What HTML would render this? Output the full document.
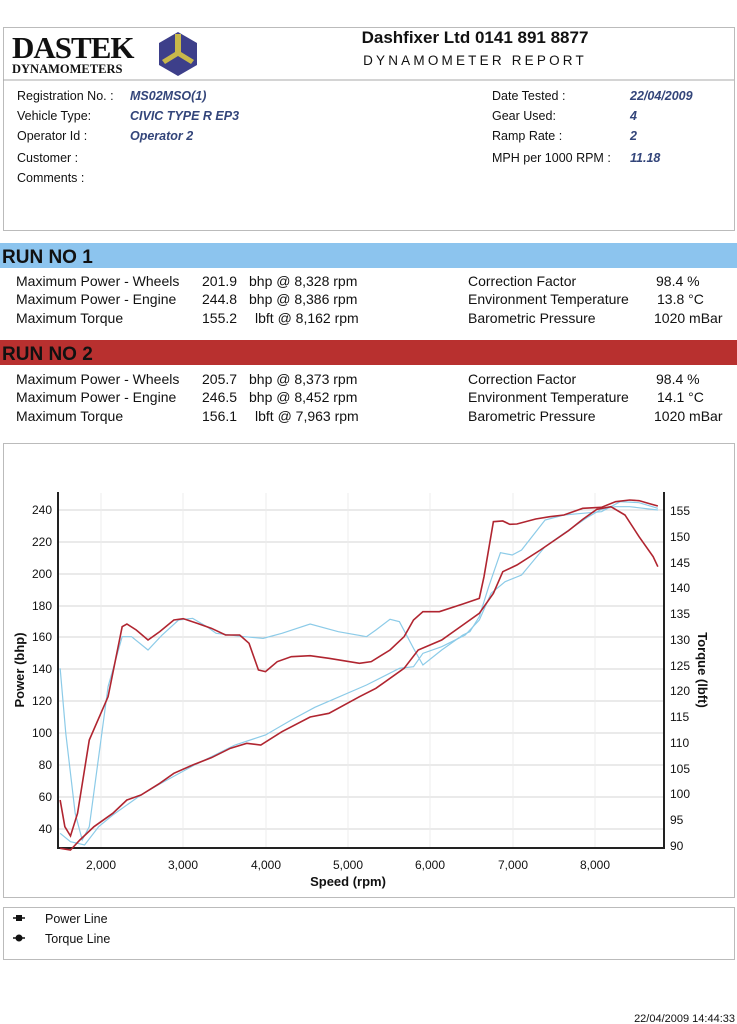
<!DOCTYPE html>
<html><head><meta charset="utf-8"><style>
html,body{margin:0;padding:0;background:#fff;}
body{width:737px;height:1024px;position:relative;overflow:hidden;font-family:"Liberation Sans",Arial,sans-serif;}
svg{position:absolute;left:0;top:0;}
</style></head><body>
<svg width="737" height="1024" viewBox="0 0 737 1024" font-family="Liberation Sans, Arial, sans-serif">
<rect x="3.5" y="27.5" width="731" height="203" fill="none" stroke="#bbb"/>
<line x1="3" y1="80" x2="734" y2="80" stroke="#aaa"/>
<text x="12" y="58" font-family="Liberation Serif, serif" font-weight="bold" font-size="31" fill="#111" letter-spacing="-1">DASTEK</text>
<text x="12" y="73" font-family="Liberation Serif, serif" font-weight="bold" font-size="12.5" fill="#111">DYNAMOMETERS</text>
<polygon points="178,32 197,43 197,65 178,76 159,65 159,43" fill="#3d3f8a"/>
<polygon points="175,34 181,34 181,52 194,60 191,64 178,56 165,64 162,60 175,52" fill="#c8b84a"/>
<text x="475" y="43" text-anchor="middle" font-size="17" font-weight="bold" fill="#111">Dashfixer Ltd 0141 891 8877</text>
<text x="475" y="65" text-anchor="middle" font-size="13.5" fill="#111" letter-spacing="3.2">DYNAMOMETER REPORT</text>
<g font-size="12.5" fill="#111">
<text x="17" y="100">Registration No. :</text>
<text x="17" y="120">Vehicle Type:</text>
<text x="17" y="140">Operator Id :</text>
<text x="17" y="162">Customer :</text>
<text x="17" y="182">Comments :</text>
<text x="492" y="100">Date Tested :</text>
<text x="492" y="120">Gear Used:</text>
<text x="492" y="140">Ramp Rate :</text>
<text x="492" y="162">MPH per 1000 RPM :</text>
</g>
<g font-size="12.5" fill="#33457a" font-style="italic" font-weight="bold">
<text x="130" y="100">MS02MSO(1)</text>
<text x="130" y="120">CIVIC TYPE R EP3</text>
<text x="130" y="140">Operator  2</text>
<text x="630" y="100">22/04/2009</text>
<text x="630" y="120">4</text>
<text x="630" y="140">2</text>
<text x="630" y="162">11.18</text>
</g>
<rect x="0" y="243" width="737" height="25" fill="#8cc4ee"/>
<text x="2" y="263" font-size="19" font-weight="bold" fill="#111">RUN NO 1</text>
<rect x="0" y="340" width="737" height="25" fill="#b8302f"/>
<text x="2" y="360" font-size="19" font-weight="bold" fill="#111">RUN NO 2</text>
<g font-size="14" fill="#111">
<text x="16" y="286">Maximum Power - Wheels</text>
<text x="16" y="304">Maximum Power - Engine</text>
<text x="16" y="323">Maximum Torque</text>
<text x="202" y="286">201.9</text><text x="249" y="286">bhp @ 8,328 rpm</text>
<text x="202" y="304">244.8</text><text x="249" y="304">bhp @ 8,386 rpm</text>
<text x="202" y="323">155.2</text><text x="255" y="323">lbft @ 8,162 rpm</text>
<text x="468" y="286">Correction Factor</text>
<text x="468" y="304">Environment Temperature</text>
<text x="468" y="323">Barometric Pressure</text>
<text x="656" y="286">98.4 %</text>
<text x="657" y="304">13.8 °C</text>
<text x="654" y="323">1020 mBar</text>
<text x="16" y="384">Maximum Power - Wheels</text>
<text x="16" y="402">Maximum Power - Engine</text>
<text x="16" y="421">Maximum Torque</text>
<text x="202" y="384">205.7</text><text x="249" y="384">bhp @ 8,373 rpm</text>
<text x="202" y="402">246.5</text><text x="249" y="402">bhp @ 8,452 rpm</text>
<text x="202" y="421">156.1</text><text x="255" y="421">lbft @ 7,963 rpm</text>
<text x="468" y="384">Correction Factor</text>
<text x="468" y="402">Environment Temperature</text>
<text x="468" y="421">Barometric Pressure</text>
<text x="656" y="384">98.4 %</text>
<text x="657" y="402">14.1 °C</text>
<text x="654" y="421">1020 mBar</text>
</g>
<rect x="3.5" y="443.5" width="731" height="454" fill="none" stroke="#bbb"/>
<g stroke="#d4d4d4" stroke-width="1">
<line x1="58" x2="664" y1="510" y2="510"/><line x1="58" x2="664" y1="542" y2="542"/>
<line x1="58" x2="664" y1="574" y2="574"/><line x1="58" x2="664" y1="606" y2="606"/>
<line x1="58" x2="664" y1="637" y2="637"/><line x1="58" x2="664" y1="669" y2="669"/>
<line x1="58" x2="664" y1="701" y2="701"/><line x1="58" x2="664" y1="733" y2="733"/>
<line x1="58" x2="664" y1="765" y2="765"/><line x1="58" x2="664" y1="797" y2="797"/>
<line x1="58" x2="664" y1="829" y2="829"/>
</g>
<g stroke="#ececec"><line x1="101" x2="101" y1="493" y2="848"/><line x1="183" x2="183" y1="493" y2="848"/><line x1="266" x2="266" y1="493" y2="848"/><line x1="348" x2="348" y1="493" y2="848"/><line x1="430" x2="430" y1="493" y2="848"/><line x1="513" x2="513" y1="493" y2="848"/><line x1="595" x2="595" y1="493" y2="848"/></g>
<g stroke="#222" stroke-width="2"><line x1="58" y1="492" x2="58" y2="849"/><line x1="664" y1="492" x2="664" y2="849"/><line x1="57" y1="848" x2="665" y2="848"/></g>
<g font-size="12" fill="#111" text-anchor="end">
<text x="52" y="514">240</text><text x="52" y="546">220</text><text x="52" y="578">200</text><text x="52" y="610">180</text>
<text x="52" y="641">160</text><text x="52" y="673">140</text><text x="52" y="705">120</text><text x="52" y="737">100</text>
<text x="52" y="769">80</text><text x="52" y="801">60</text><text x="52" y="833">40</text>
</g>
<g font-size="12" fill="#111">
<text x="670" y="515">155</text><text x="670" y="541">150</text><text x="670" y="567">145</text><text x="670" y="592">140</text>
<text x="670" y="618">135</text><text x="670" y="644">130</text><text x="670" y="670">125</text><text x="670" y="695">120</text>
<text x="670" y="721">115</text><text x="670" y="747">110</text><text x="670" y="773">105</text><text x="670" y="798">100</text>
<text x="670" y="824">95</text><text x="670" y="850">90</text>
</g>
<g font-size="12" fill="#111" text-anchor="middle">
<text x="101" y="869">2,000</text><text x="183" y="869">3,000</text><text x="266" y="869">4,000</text><text x="348" y="869">5,000</text>
<text x="430" y="869">6,000</text><text x="513" y="869">7,000</text><text x="595" y="869">8,000</text>
</g>
<text x="348" y="886" text-anchor="middle" font-size="13" font-weight="bold" fill="#111">Speed (rpm)</text>
<text transform="translate(24,670) rotate(-90)" text-anchor="middle" font-size="13" font-weight="bold" fill="#111">Power (bhp)</text>
<text transform="translate(698,670) rotate(90)" text-anchor="middle" font-size="13" font-weight="bold" fill="#111">Torque (lbft)</text>
<g transform="translate(0,480) scale(0.4699,0.33333)" fill="none">
<polyline vector-effect="non-scaling-stroke" stroke="#8ccbe8" stroke-width="1.2" points="128,565 140,760 160,1000 175,1080 190,1040 210,830 230,620 260,470 280,470 315,510 345,465 380,420 410,415 440,440 460,460 520,470 560,475 600,460 660,432 720,455 780,470 800,450 830,418 850,425 880,505 900,555 940,510 985,465 1000,455 1020,410 1040,320 1065,218 1090,225 1110,210 1160,120 1200,105 1240,100 1280,95 1320,65 1360,68 1400,85"/>
<polyline vector-effect="non-scaling-stroke" stroke="#8ccbe8" stroke-width="1.2" points="128,1060 150,1085 180,1095 210,1040 240,1005 300,945 340,912 410,858 500,795 565,765 620,720 670,682 780,615 850,565 880,560 900,520 940,500 990,465 1020,420 1045,340 1075,305 1110,285 1160,200 1200,160 1250,112 1280,88 1310,80 1340,80 1400,90"/>
<polyline vector-effect="non-scaling-stroke" stroke="#b02530" stroke-width="1.6" points="128,960 138,1040 150,1068 165,1000 190,780 230,650 260,440 270,432 290,450 315,480 340,455 370,420 390,416 420,430 450,445 480,465 510,465 530,490 550,570 565,575 590,545 620,530 660,527 700,535 765,550 790,545 830,510 860,470 880,420 900,395 935,395 985,372 1020,355 1030,290 1050,125 1070,123 1085,133 1100,132 1140,117 1170,110 1200,105 1240,85 1280,82 1310,65 1340,60 1360,62 1380,70 1400,78"/>
<polyline vector-effect="non-scaling-stroke" stroke="#b02530" stroke-width="1.6" points="128,1105 150,1110 170,1080 200,1040 240,1000 270,960 300,945 340,910 370,880 410,855 450,833 490,805 525,790 555,795 600,755 660,711 700,700 765,650 800,625 860,565 890,510 940,480 985,435 1020,400 1050,340 1070,275 1100,255 1150,210 1210,152 1240,118 1270,88 1300,80 1330,105 1360,170 1390,230 1400,260"/>
</g>
<rect x="3.5" y="907.5" width="731" height="52" fill="none" stroke="#bbb"/>
<line x1="13" y1="918" x2="25" y2="918" stroke="#111" stroke-width="1.5"/><rect x="16" y="915" width="6" height="6" fill="#111"/>
<line x1="13" y1="938" x2="25" y2="938" stroke="#111" stroke-width="1.5"/><circle cx="19" cy="938" r="3.5" fill="#111"/>
<text x="45" y="923" font-size="12.5" fill="#111">Power Line</text>
<text x="45" y="943" font-size="12.5" fill="#111">Torque Line</text>
<text x="735" y="1022" text-anchor="end" font-size="11" fill="#111">22/04/2009 14:44:33</text>
</svg>
</body></html>
